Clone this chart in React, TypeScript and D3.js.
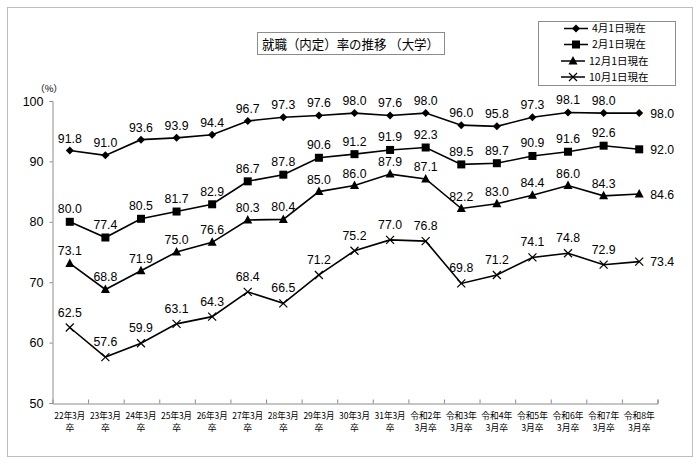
import React, { useRef, useEffect } from 'react';
import * as d3 from 'd3';

const catLine1 = ['22年3月', '23年3月', '24年3月', '25年3月', '26年3月', '27年3月', '28年3月', '29年3月', '30年3月', '31年3月', '令和2年', '令和3年', '令和4年', '令和5年', '令和6年', '令和7年', '令和8年'];
const catLine2 = ['卒', '卒', '卒', '卒', '卒', '卒', '卒', '卒', '卒', '卒', '3月卒', '3月卒', '3月卒', '3月卒', '3月卒', '3月卒', '3月卒'];

const apr1 = [91.8, 91.0, 93.6, 93.9, 94.4, 96.7, 97.3, 97.6, 98.0, 97.6, 98.0, 96.0, 95.8, 97.3, 98.1, 98.0, 98.0];
const feb1 = [80.0, 77.4, 80.5, 81.7, 82.9, 86.7, 87.8, 90.6, 91.2, 91.9, 92.3, 89.5, 89.7, 90.9, 91.6, 92.6, 92.0];
const dec1 = [73.1, 68.8, 71.9, 75.0, 76.6, 80.3, 80.4, 85.0, 86.0, 87.9, 87.1, 82.2, 83.0, 84.4, 86.0, 84.3, 84.6];
const oct1 = [62.5, 57.6, 59.9, 63.1, 64.3, 68.4, 66.5, 71.2, 75.2, 77.0, 76.8, 69.8, 71.2, 74.1, 74.8, 72.9, 73.4];

const seriesNames = ['4月1日現在', '2月1日現在', '12月1日現在', '10月1日現在'];
const yTicks = [50, 60, 70, 80, 90, 100];

const NUM_FONT = '"Liberation Sans", Arial, "Noto Sans CJK JP", sans-serif';
const JP_FONT = '"Noto Sans CJK JP", sans-serif';

function drawMarker(g: any, kind: string, cx: number, cy: number) {
  if (kind === 'diamond') {
    g.append('path').attr('d', `M${cx},${cy - 4}L${cx + 4},${cy}L${cx},${cy + 4}L${cx - 4},${cy}Z`).attr('fill', '#000');
  } else if (kind === 'square') {
    g.append('rect').attr('x', cx - 4).attr('y', cy - 4).attr('width', 8).attr('height', 8).attr('fill', '#000');
  } else if (kind === 'triangle') {
    g.append('path').attr('d', `M${cx},${cy - 5}L${cx + 4.5},${cy + 3.5}L${cx - 4.5},${cy + 3.5}Z`).attr('fill', '#000');
  } else {
    g.append('path').attr('d', `M${cx - 4},${cy - 4}L${cx + 4},${cy + 4}M${cx + 4},${cy - 4}L${cx - 4},${cy + 4}`)
      .attr('stroke', '#000').attr('stroke-width', 1.2).attr('fill', 'none');
  }
}

function CareerChart() {
  const svgRef = useRef(null);
  useEffect(() => {
    const svg = d3.select(svgRef.current);
    svg.selectAll('*').remove();

    // outer frame
    svg.append('rect')
      .attr('x', 7.5).attr('y', 7.5).attr('width', 685).attr('height', 449)
      .attr('fill', '#fff').attr('stroke', '#bdbdbd');

    const x = d3.scaleBand().domain(catLine1).range([52, 657]);
    const y = d3.scaleLinear().domain([50, 100]).range([403, 101]);
    const cx = (i: number) => (x(catLine1[i]) as number) + x.bandwidth() / 2;

    // y axis
    const yAxis = d3.axisLeft(y).tickValues(yTicks).tickSize(3).tickPadding(6).tickFormat(d => String(d));
    const gy = svg.append('g').attr('transform', 'translate(52.5,0)').call(yAxis);
    gy.select('.domain').attr('stroke', '#8c8c8c');
    gy.selectAll('.tick line').attr('stroke', '#8c8c8c');
    gy.selectAll('.tick text').attr('font-size', 12.5).attr('font-family', NUM_FONT).attr('fill', '#000');

    // x axis with inner ticks at band edges
    const xEdge = d3.scaleLinear().domain([0, catLine1.length]).range([52, 657]);
    const xAxis = d3.axisBottom(xEdge).tickValues(d3.range(1, catLine1.length + 1))
      .tickSize(-4).tickFormat(() => '');
    const gx = svg.append('g').attr('transform', 'translate(0.5,403.5)').call(xAxis);
    gx.select('.domain').attr('stroke', '#8c8c8c');
    gx.selectAll('.tick line').attr('stroke', '#8c8c8c');

    // category labels
    const labels = svg.append('g').attr('font-family', JP_FONT).attr('font-size', 8.8).attr('fill', '#000').attr('text-anchor', 'middle');
    catLine1.forEach((c, i) => {
      labels.append('text').attr('x', cx(i)).attr('y', 419).attr('textLength', 31)
        .attr('lengthAdjust', 'spacingAndGlyphs').text(c);
      labels.append('text').attr('x', cx(i)).attr('y', 431).text(catLine2[i]);
    });

    svg.append('text').attr('x', 49).attr('y', 92).attr('font-family', JP_FONT).attr('font-size', 9.5)
      .attr('text-anchor', 'middle').text('（%）');

    const all = [apr1, feb1, dec1, oct1];
    const kinds = ['diamond', 'square', 'triangle', 'cross'];
    const offsets = [8, 8.5, 8, 11];
    const line = d3.line<number>().x((d, i) => cx(i)).y(d => y(d));

    all.forEach((vals, si) => {
      const g = svg.append('g');
      g.append('path').attr('d', line(vals) as string).attr('fill', 'none').attr('stroke', '#000').attr('stroke-width', 1.6);
      vals.forEach((v, i) => drawMarker(g, kinds[si], cx(i), y(v)));
      vals.forEach((v, i) => {
        const last = i === vals.length - 1;
        g.append('text')
          .attr('x', last ? cx(i) + 11 : cx(i))
          .attr('y', last ? y(v) + 4.5 : y(v) - offsets[si])
          .attr('text-anchor', last ? 'start' : 'middle')
          .attr('font-family', NUM_FONT).attr('font-size', 12.3).attr('fill', '#000')
          .text(v.toFixed(1));
      });
    });

    // title
    svg.append('rect').attr('x', 257.5).attr('y', 32.5).attr('width', 187).attr('height', 22)
      .attr('fill', '#fff').attr('stroke', '#8c8c8c');
    svg.append('text').attr('x', 262).attr('y', 48.5).attr('font-family', JP_FONT).attr('font-size', 13)
      .attr('textLength', 177).attr('lengthAdjust', 'spacingAndGlyphs').text('就職（内定）率の推移 （大学）');

    // legend
    svg.append('rect').attr('x', 538.5).attr('y', 21.5).attr('width', 137).attr('height', 64)
      .attr('fill', '#fff').attr('stroke', '#8c8c8c');
    const legY = [28.5, 44.5, 61, 77];
    seriesNames.forEach((name, si) => {
      const wide = name.length > 6;
      const x0 = wide ? 561 : 564;
      const lg = svg.append('g');
      lg.append('line').attr('x1', x0).attr('x2', x0 + 24).attr('y1', legY[si]).attr('y2', legY[si])
        .attr('stroke', '#000').attr('stroke-width', 1.5);
      drawMarker(lg, kinds[si], x0 + 12, legY[si]);
      lg.append('text').attr('x', x0 + 28).attr('y', legY[si] + 3.8).attr('font-family', JP_FONT)
        .attr('font-size', 10.5).text(name);
    });
  }, []);
  return <svg ref={svgRef} width={700} height={464} style={{ position: 'absolute', left: 0, top: 0, background: '#fff' }}></svg>;
}

export default function App() {
  return <CareerChart />;
}
